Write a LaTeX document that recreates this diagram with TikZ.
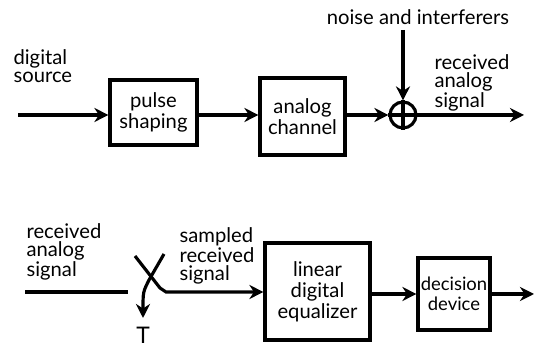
\documentclass[tikz,border=0pt]{standalone}
\usepackage{fontspec}
\setmainfont{Lato}
\usetikzlibrary{arrows.meta}
\begin{document}
\begin{tikzpicture}[x=0.02cm,y=-0.02cm,line width=1.8pt,>={Stealth[length=8pt,width=8pt]},
  lbl/.style={align=left,inner sep=0,font=\fontsize{11.5}{10}\selectfont},
  box/.style={draw,line width=1.8pt,align=center,inner sep=0,font=\fontsize{11.5}{12}\selectfont},
  adder/.style={draw,circle,line width=1.8pt,minimum size=0.52cm,inner sep=0}]
\useasboundingbox (0,0) rectangle (534,350);
% top row: transmitter and channel
\coordinate (src) at (18,115);
\node[box,minimum width=1.74cm,minimum height=1.3cm] (pulse) at (153.5,112.5) {pulse\\shaping};
\node[box,minimum width=1.7cm,minimum height=1.54cm] (chan) at (302.5,116.5) {analog\\channel};
\node[adder] (sum) at (403,115) {};
\draw (sum.north) -- (sum.south) (sum.west) -- (sum.east);
\node[lbl] (noise) at (418,17) {noise and interferers};
\coordinate (nz) at (403,30);
\coordinate (out) at (524,115);
\node[lbl,anchor=north west] (srclbl) at (12,48) {digital\\source};
\node[lbl,anchor=north west] (rxlbl) at (433,53) {received\\analog\\signal};
\draw[->] (src) -- (pulse.west |- src);
\draw[->] (pulse.east |- src) -- (chan.west |- src);
\draw[->] (chan.east |- src) -- (sum);
\draw[->] (nz) -- (sum);
\draw[->] (sum) -- (out);
% bottom row: sampler, equalizer, decision
\coordinate (rx) at (25,292);
\coordinate (rxend) at (128,292);
\coordinate (armA) at (135,256);
\coordinate (armB) at (164,254);
\coordinate (smp) at (143,318);
\node[lbl,font=\fontsize{13}{13}\selectfont,anchor=north] (T) at (143,326) {T};
\node[box,minimum width=2.1cm,minimum height=1.94cm] (eq) at (317.5,291.5) {linear\\digital\\equalizer};
\node[box,minimum width=1.44cm,minimum height=1.44cm,font=\fontsize{10.5}{11.5}\selectfont] (dec) at (454,294) {decision\\device};
\coordinate (dout) at (534,294);
\node[lbl,anchor=north west] (rx2lbl) at (25,222) {received\\analog\\signal};
\node[lbl,anchor=north west] (smplbl) at (178,226) {sampled\\received\\signal};
\draw (rx) -- (rxend);
\draw[->] (armB) -- (149,280) .. controls (143,292) .. (smp);
\draw[->] (armA) -- (160,288) -- (166,292) -- (eq.west |- 0,292);
\draw[->] (eq.east |- 0,294) -- (dec);
\draw[->] (dec) -- (dout);
\end{tikzpicture}
\end{document}
